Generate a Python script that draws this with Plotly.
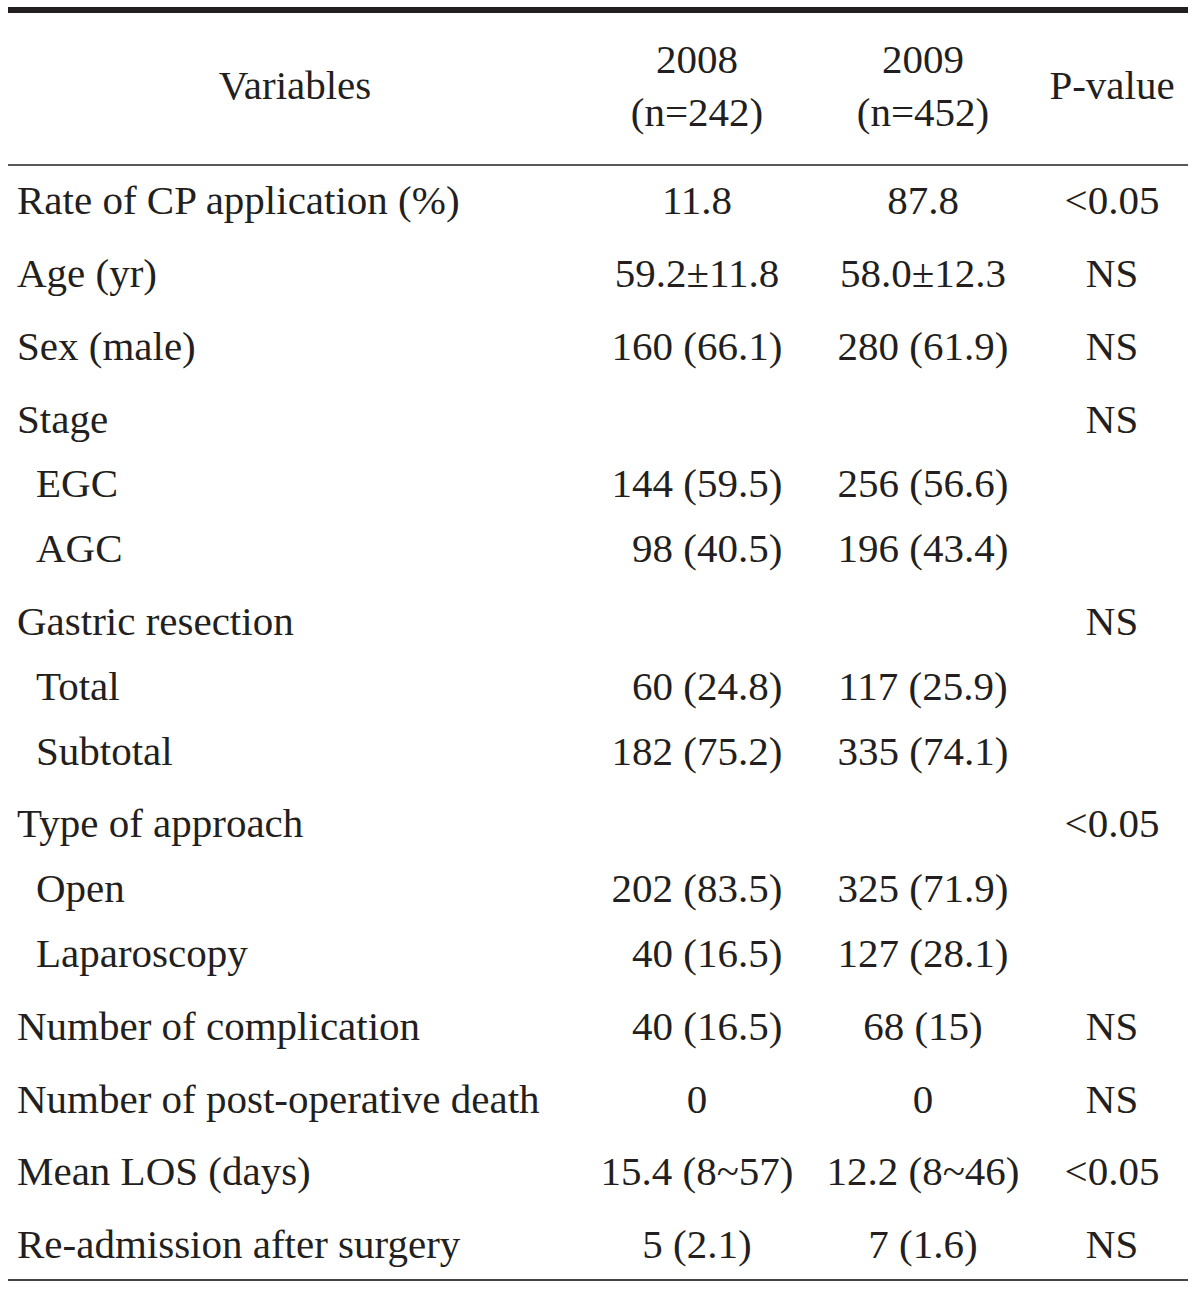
import plotly.graph_objects as go

# ---- data ----
header_vars = "Variables"
header_2008 = "2008<br>(n=242)"
header_2009 = "2009<br>(n=452)"
header_p = "P-value"

variables = [
    "Rate of CP application (%)", "Age (yr)", "Sex (male)", "Stage", "EGC", "AGC",
    "Gastric resection", "Total", "Subtotal", "Type of approach", "Open", "Laparoscopy",
    "Number of complication", "Number of post-operative death", "Mean LOS (days)",
    "Re-admission after surgery",
]
levels = [0, 0, 0, 0, 1, 1, 0, 1, 1, 0, 1, 1, 0, 0, 0, 0]
values_2008 = [
    "11.8", "59.2±11.8", "160 (66.1)", "", "144 (59.5)", "\u200798 (40.5)",
    "", "\u200760 (24.8)", "182 (75.2)", "", "202 (83.5)", "\u200740 (16.5)",
    "\u200740 (16.5)", "0", "15.4 (8~57)", "5 (2.1)",
]
values_2009 = [
    "87.8", "58.0±12.3", "280 (61.9)", "", "256 (56.6)", "196 (43.4)",
    "", "117 (25.9)", "335 (74.1)", "", "325 (71.9)", "127 (28.1)",
    "68 (15)", "0", "12.2 (8~46)", "7 (1.6)",
]
p_values = [
    "<0.05", "NS", "NS", "NS", "", "",
    "NS", "", "", "<0.05", "", "",
    "NS", "NS", "<0.05", "NS",
]

# ---- layout helpers ----
FONT = "Liberation Serif"
FS = 41
INK = "#231f20"
W, H = 1200, 1290
first_y = 204
gap_top, gap_sub = 72.8, 64.8
ys = []
y = first_y
for i, lv in enumerate(levels):
    if i > 0:
        y += gap_top if lv == 0 else gap_sub
    ys.append(y)
x_var = [17 + 19 * lv for lv in levels]
x08, x09, xp = 697, 923, 1112

fig = go.Figure()
fig.add_trace(go.Scatter(x=x_var, y=ys, text=variables, mode="text",
                         textposition="middle right",
                         textfont=dict(family=FONT, size=FS, color=INK),
                         hoverinfo="skip", showlegend=False))
for xc, vals in [(x08, values_2008), (x09, values_2009), (xp, p_values)]:
    fig.add_trace(go.Scatter(x=[xc] * len(vals), y=ys, text=vals, mode="text",
                             textposition="middle center",
                             textfont=dict(family=FONT, size=FS, color=INK),
                             hoverinfo="skip", showlegend=False))
# header
fig.add_trace(go.Scatter(x=[295, x08, x09, xp], y=[89, 89, 89, 89],
                         text=[header_vars, header_2008, header_2009, header_p],
                         mode="text", textposition="middle center",
                         textfont=dict(family=FONT, size=FS, color=INK),
                         hoverinfo="skip", showlegend=False))

# rules
fig.add_shape(type="line", x0=8, x1=1188, y0=10, y1=10, line=dict(color=INK, width=6))
fig.add_shape(type="line", x0=8, x1=1188, y0=165, y1=165, line=dict(color=INK, width=1.3))
fig.add_shape(type="line", x0=8, x1=1188, y0=1280, y1=1280, line=dict(color="#444", width=2))

fig.update_layout(
    width=W, height=H, margin=dict(l=0, r=0, t=0, b=0),
    paper_bgcolor="white", plot_bgcolor="white",
    xaxis=dict(range=[0, W], visible=False, fixedrange=True),
    yaxis=dict(range=[H, 0], visible=False, fixedrange=True),
)
fig.write_html("out.html", config={"displayModeBar": False},
               post_script="document.body.style.margin='0';document.body.style.overflow='hidden';")
